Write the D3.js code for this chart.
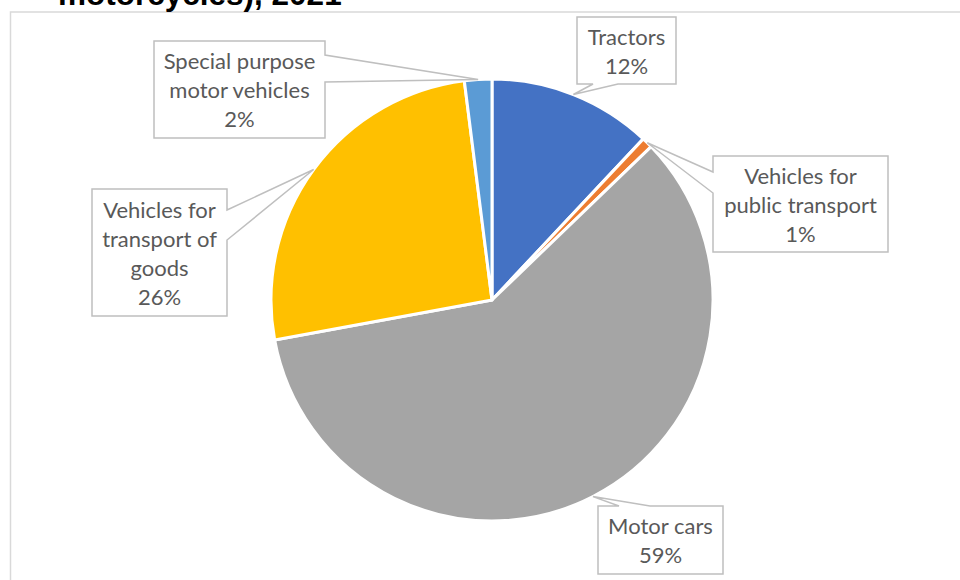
<!DOCTYPE html>
<html>
<head>
<meta charset="utf-8">
<script src="https://cdn.jsdelivr.net/npm/d3@7"></script>
<style>
  html, body { margin: 0; padding: 0; background: #fff; }
  svg { display: block; }
</style>
</head>
<body>
<svg id="chart" width="960" height="580"></svg>
<script>
// ---- data ----
const titleText = "motorcycles), 2021";
const categories = ["Tractors", "Vehicles for public transport", "Motor cars", "Vehicles for transport of goods", "Special purpose motor vehicles"];
const values = [12.0, 0.8, 59.3, 25.9, 2.0];
const labelLines = [
  ["Tractors", "12%"],
  ["Vehicles for", "public transport", "1%"],
  ["Motor cars", "59%"],
  ["Vehicles for", "transport of", "goods", "26%"],
  ["Special purpose", "motor vehicles", "2%"]
];
const colors = ["#4472C4", "#ED7D31", "#A5A5A5", "#FFC000", "#5B9BD5"];

// ---- layout (callout boxes) ----
const boxes = [
  {x0: 577, y0: 17, x1: 676, y1: 84, side: "bottom", b0: 593, b1: 618},
  {x0: 713, y0: 156, x1: 888, y1: 252, side: "left", b0: 172, b1: 193},
  {x0: 598, y0: 506, x1: 723, y1: 574, side: "top", b0: 619, b1: 650},
  {x0: 92, y0: 189, x1: 227, y1: 316, side: "right", b0: 210, b1: 240},
  {x0: 154, y0: 41, x1: 325, y1: 138, side: "right", b0: 55, b1: 82}
];

const svg = d3.select("#chart");

// chart area border
svg.append("rect")
  .attr("x", 10.5).attr("y", 12)
  .attr("width", 980).attr("height", 600)
  .attr("fill", "#fff")
  .attr("stroke", "#D9D9D9").attr("stroke-width", 1.5);

// title (cut off at top, as in the reference)
svg.append("text")
  .attr("x", 58).attr("y", 4.5)
  .attr("font-family", "Liberation Sans, Arial, sans-serif")
  .attr("font-weight", "bold")
  .attr("font-size", 31.5)
  .attr("fill", "#000")
  .text(titleText);

const cx = 492, cy = 300, r = 221;

const pie = d3.pie().sort(null).value(d => d)(values);
const arc = d3.arc().innerRadius(0).outerRadius(r);
const edgeArc = d3.arc().innerRadius(r).outerRadius(r);

const g = svg.append("g").attr("transform", `translate(${cx},${cy})`);
g.selectAll("path.slice")
  .data(pie)
  .join("path")
  .attr("class", "slice")
  .attr("d", arc)
  .attr("fill", (d, i) => colors[i])
  .attr("stroke", "#fff")
  .attr("stroke-width", 3)
  .attr("stroke-linejoin", "round");

function calloutPath(b, tip) {
  const {x0, y0, x1, y1, side, b0, b1} = b;
  const pts = [];
  pts.push([x0, y0]);
  if (side === "top") { pts.push([b0, y0], tip, [b1, y0]); }
  pts.push([x1, y0]);
  if (side === "right") { pts.push([x1, b0], tip, [x1, b1]); }
  pts.push([x1, y1]);
  if (side === "bottom") { pts.push([b1, y1], tip, [b0, y1]); }
  pts.push([x0, y1]);
  if (side === "left") { pts.push([x0, b1], tip, [x0, b0]); }
  return "M" + pts.map(p => p.join(",")).join("L") + "Z";
}

const fontSize = 22, lineH = 29;
pie.forEach((d, i) => {
  const c = edgeArc.centroid(d);
  const tip = [cx + c[0], cy + c[1]];
  const b = boxes[i];
  svg.append("path")
    .attr("d", calloutPath(b, tip))
    .attr("fill", "#fff")
    .attr("stroke", "#BFBFBF")
    .attr("stroke-width", 1.5)
    .attr("stroke-linejoin", "miter");
  const lines = labelLines[i];
  const mx = (b.x0 + b.x1) / 2, my = (b.y0 + b.y1) / 2 + 1;
  const t = svg.append("text")
    .attr("font-family", "Lato, 'Open Sans', sans-serif")
    .attr("font-size", fontSize)
    .attr("fill", "#595959")
    .attr("text-anchor", "middle");
  lines.forEach((ln, k) => {
    t.append("tspan")
      .attr("x", mx)
      .attr("y", my + (k - (lines.length - 1) / 2) * lineH)
      .attr("dy", "0.35em")
      .text(ln);
  });
});
</script>
</body>
</html>
